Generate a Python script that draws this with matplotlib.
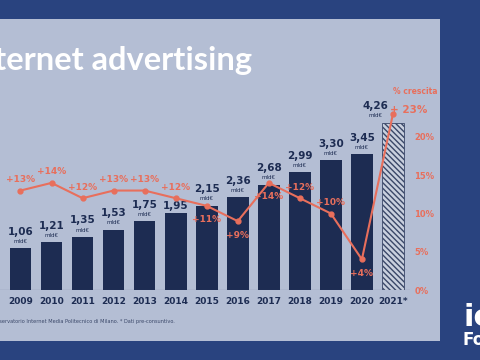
import matplotlib.pyplot as plt
from matplotlib.patches import Rectangle

# data
years = [2008, 2009, 2010, 2011, 2012, 2013, 2014, 2015, 2016, 2017, 2018, 2019, 2020, 2021]
year_labels = ['2008', '2009', '2010', '2011', '2012', '2013', '2014', '2015', '2016',
               '2017', '2018', '2019', '2020', '2021*']
spend = [0.94, 1.06, 1.21, 1.35, 1.53, 1.75, 1.95, 2.15, 2.36, 2.68, 2.99, 3.30, 3.45, 4.26]
growth_years = [2009, 2010, 2011, 2012, 2013, 2014, 2015, 2016, 2017, 2018, 2019, 2020, 2021]
growth = [13, 14, 12, 13, 13, 12, 11, 9, 14, 12, 10, 4, 23]
label_below = [False, False, False, False, False, False, True, True, True, False, False, True, None]

navy = '#1d2c52'
salmon = '#e86f5c'
panel = '#b4bed4'
outer = '#29437f'

W, H = 480, 360
fig = plt.figure(figsize=(4.8, 3.6), dpi=100, facecolor=outer)

# light slide panel
fig.patches.append(Rectangle((0, 1 - 341 / H), 440 / W, (341 - 19) / H,
                             transform=fig.transFigure, facecolor=panel,
                             edgecolor='none', zorder=-10))

fig.text(252 / W, 1 - 70 / H, 'Internet advertising', ha='right', va='baseline',
         color='white', fontsize=23.5, fontweight='bold', family='Lato')

ax = fig.add_axes([0, 1 - 290 / H, 410 / W, 190 / H])
ax.set_facecolor('none')

ax.bar(years[:-1], spend[:-1], width=0.7, color=navy, zorder=2)
ax.bar(years[-1], spend[-1], width=0.7, facecolor='#c9d0de', edgecolor='#3a4768',
       hatch='\\\\\\\\\\\\', linewidth=0.6, zorder=2)

for x, v in zip(years, spend):
    if x == 2008:
        continue
    xt = x - 0.55 if x == 2021 else x
    txt = f'{v:.2f}'.replace('.', ',')
    if x == 2014:
        # the slide has no "mld€" under this one
        ax.annotate(txt, (xt, v), xytext=(0, 5), textcoords='offset points',
                    ha='center', va='center', fontsize=7.5, fontweight='bold', color=navy)
        continue
    ax.annotate(txt, (xt, v), xytext=(0, 12), textcoords='offset points',
                ha='center', va='center', fontsize=7.5, fontweight='bold', color=navy)
    ax.annotate('mld€', (xt, v), xytext=(0, 5), textcoords='offset points',
                ha='center', va='center', fontsize=4, color=navy)

for spine in ax.spines.values():
    spine.set_visible(False)
ax.axhline(0, color='#3a4768', linewidth=0.8, zorder=3)
ax.set_yticks([])
ax.set_xticks(years)
ax.set_xticklabels(year_labels, fontsize=6.5, fontweight='bold', color=navy)
ax.tick_params(axis='x', length=0, pad=5)

ax2 = ax.twinx()
ax2.plot(growth_years, growth, color=salmon, linewidth=1.5, marker='o', markersize=3.5, zorder=4)
for x, g, below in zip(growth_years, growth, label_below):
    if below is None:
        continue
    off = -10 if below else 8
    ax2.annotate(f'+{g}%', (x, g), xytext=(0, off), textcoords='offset points',
                 ha='center', va='center', fontsize=6.5, fontweight='bold', color=salmon)
ax2.annotate('+ 23%', (2021, 23), xytext=(11, 3), textcoords='offset points',
             ha='center', va='center', fontsize=7.5, fontweight='bold', color=salmon,
             annotation_clip=False)
for spine in ax2.spines.values():
    spine.set_visible(False)
ax2.set_yticks([0, 5, 10, 15, 20])
ax2.set_yticklabels(['0%', '5%', '10%', '15%', '20%'], fontsize=6, color=salmon,
                    fontweight='bold')
ax2.tick_params(axis='y', length=0, pad=3)

# limits last: twinx shares x, so the line plot would rescale it
ax.set_xlim(2008.34, 2021.55)
ax.set_ylim(0, 190 / 39.3)
ax2.set_ylim(0, 190 / 7.65)

fig.text(415 / W, 1 - 92 / H, '% crescita', ha='center', va='center',
         fontsize=5.5, color=salmon, fontweight='bold')
fig.text(175 / W, 1 - 322 / H, 'Osservatorio Internet Media Politecnico di Milano. * Dati pre-consuntivo.',
         ha='right', va='center', fontsize=3.6, color='#3a4768')

# logo fragments on the right edge
fig.text(463 / W, 1 - 318 / H, 'io', ha='left', va='center', fontsize=22,
         fontweight='bold', color='white')
fig.text(462 / W, 1 - 340 / H, 'Fo', ha='left', va='center', fontsize=12,
         fontweight='bold', color='white')

fig.savefig('out.png', dpi=100, facecolor=outer)
